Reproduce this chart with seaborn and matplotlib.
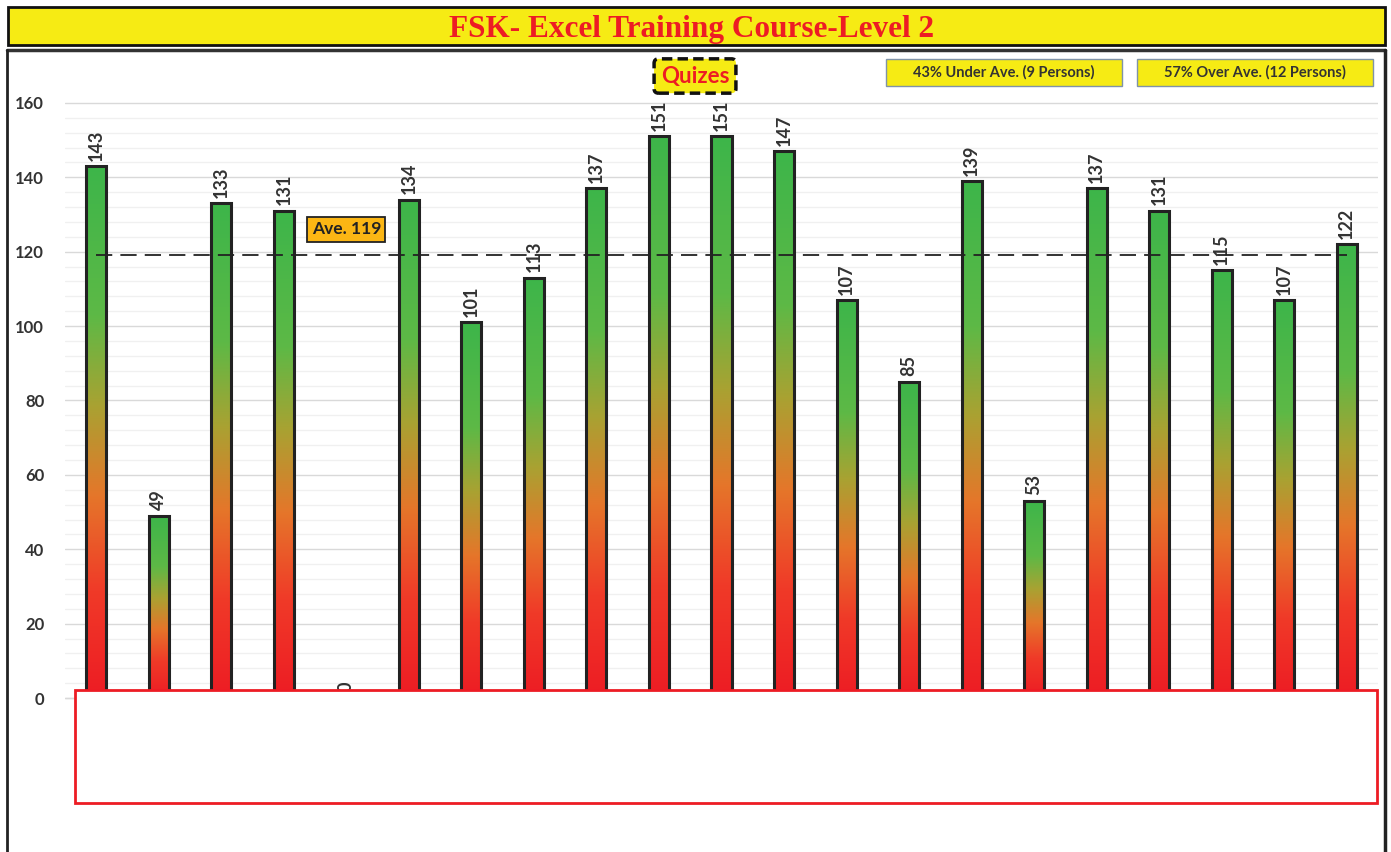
import numpy as np
import pandas as pd
import matplotlib
matplotlib.use("Agg")
import matplotlib.pyplot as plt
import seaborn as sns
from matplotlib.colors import LinearSegmentedColormap
from matplotlib.patches import Rectangle


# data
persons = ["1", "2", "3", "4", "5", "6", "7", "8", "9", "10", "11",
           "12", "13", "14", "15", "16", "17", "18", "19", "20", "21"]
scores = [143, 49, 133, 131, 0, 134, 101, 113, 137, 151, 151,
          147, 107, 85, 139, 53, 137, 131, 115, 107, 122]
average = 119
yticks = [0, 20, 40, 60, 80, 100, 120, 140, 160]
title = "FSK- Excel Training Course-Level 2"
under_text = "43% Under Ave. (9 Persons)"
over_text = "57% Over Ave. (12 Persons)"

df = pd.DataFrame({"person": persons, "score": scores})

sns.set_theme(style="white")
plt.rcParams['font.family'] = ['Lato', 'DejaVu Sans']

W, H = 1391, 852
fig = plt.figure(figsize=(W / 100, H / 100), dpi=100)
ax = fig.add_axes([65 / W, 0, (1378 - 65) / W, 1 - 52 / H])

# gradient red -> orange -> olive -> green, scaled to each bar
cmap = LinearSegmentedColormap.from_list("rg", [
    (0.0, "#ED1C24"), (0.2, "#F03A28"), (0.38, "#E5762A"),
    (0.55, "#A9A232"), (0.72, "#5DB946"), (1.0, "#3DB54A")])

sns.barplot(data=df, x="person", y="score", ax=ax, width=0.32,
            facecolor="none", edgecolor="#222222", linewidth=2.2, zorder=3)

grad = np.linspace(0, 1, 256).reshape(-1, 1)
for patch in ax.patches:
    x0, y0 = patch.get_xy()
    w, h = patch.get_width(), patch.get_height()
    if h <= 0:
        continue
    im = ax.imshow(grad, extent=[x0, x0 + w, 0, h], aspect="auto",
                   origin="lower", cmap=cmap, zorder=2)
    im.set_clip_path(patch)

# value labels
for i, v in enumerate(scores):
    ax.annotate(str(v), (i, v), xytext=(0, 4), textcoords="offset points",
                rotation=90, ha="center", va="bottom", fontsize=13,
                fontweight="bold", color="#333333", zorder=4)

# average line
ax.plot([0, len(scores) - 1], [average, average], color="#222222",
        lw=1.3, dashes=(9, 4.5), zorder=4)
ax.text(4, average + 7, f"Ave. {average}", ha="center", va="center",
        fontsize=12.5, fontweight="bold", color="#222222", zorder=5,
        bbox=dict(boxstyle="square,pad=0.25", fc="#FBB614", ec="#222222", lw=1.3))

ax.set_xlim(-0.5, len(scores) - 0.5)
ax.set_ylim(-41.4, 173.7)
ax.set_yticks(yticks)

# gridlines only across the value range
for y in np.arange(yticks[0], yticks[-1] + 1, 4):
    major = y % 20 == 0
    ax.axhline(y, color="#D9D9D9" if major else "#F0F0F0", lw=1, zorder=0)
ax.plot([-0.5, -0.34], [0, 0], color="#D9D9D9", lw=1, zorder=0)

ax.set_xticks([])
ax.set_xlabel("")
ax.set_ylabel("")
for s in ax.spines.values():
    s.set_visible(False)
ax.tick_params(axis="y", which="both", length=0, pad=15, labelsize=12,
               labelcolor="#333333")
for t in ax.get_yticklabels():
    t.set_fontweight("bold")

# empty category box at the bottom
ax.add_patch(Rectangle((10 / (1378 - 65), 49 / 800), (1377 - 75) / (1378 - 65), 113 / 800,
                       transform=ax.transAxes, fc="white", ec="#ED1C24",
                       lw=2, zorder=6, clip_on=False))

# figure decoration: title band and chart frame
fig.patches.append(Rectangle((8 / W, 1 - 45 / H), (1385 - 8) / W, 38 / H,
                             transform=fig.transFigure, fc="#F6EB14",
                             ec="#111111", lw=2, zorder=0))
fig.text(0.497, 1 - 29 / H, title, ha="center", va="center", fontsize=22.5,
         fontweight="bold", color="#ED1C24", family=["Liberation Serif"])
fig.add_artist(plt.Line2D([7 / W, 1385 / W], [1 - 50 / H, 1 - 50 / H],
                          color="#333333", lw=2.5, transform=fig.transFigure))
fig.add_artist(plt.Line2D([7 / W, 7 / W], [0, 1 - 50 / H],
                          color="#222222", lw=2, transform=fig.transFigure))
fig.add_artist(plt.Line2D([1385 / W, 1385 / W], [0, 1 - 50 / H],
                          color="#222222", lw=2.5, transform=fig.transFigure))

# "Quizes" tag
fig.text(695 / W, 1 - 76 / H, "Quizes", ha="center", va="center",
         fontsize=16, fontweight="bold", color="#ED1C24", zorder=7,
         bbox=dict(boxstyle="round,pad=0.3,rounding_size=0.2", fc="#F6EB14",
                   ec="#111111", lw=2.5, ls=(0, (3, 1.5))))

# summary boxes
for x0, txt in [(886, under_text), (1137, over_text)]:
    fig.patches.append(Rectangle((x0 / W, 1 - 86 / H), 236 / W, 27 / H,
                                 transform=fig.transFigure, fc="#F6EB14",
                                 ec="#7F93A8", lw=1, zorder=7))
    fig.text((x0 + 118) / W, 1 - 72.5 / H, txt, ha="center", va="center",
             fontsize=10.5, fontweight="bold", color="#333333", zorder=8)

fig.savefig("out.png", dpi=100)
